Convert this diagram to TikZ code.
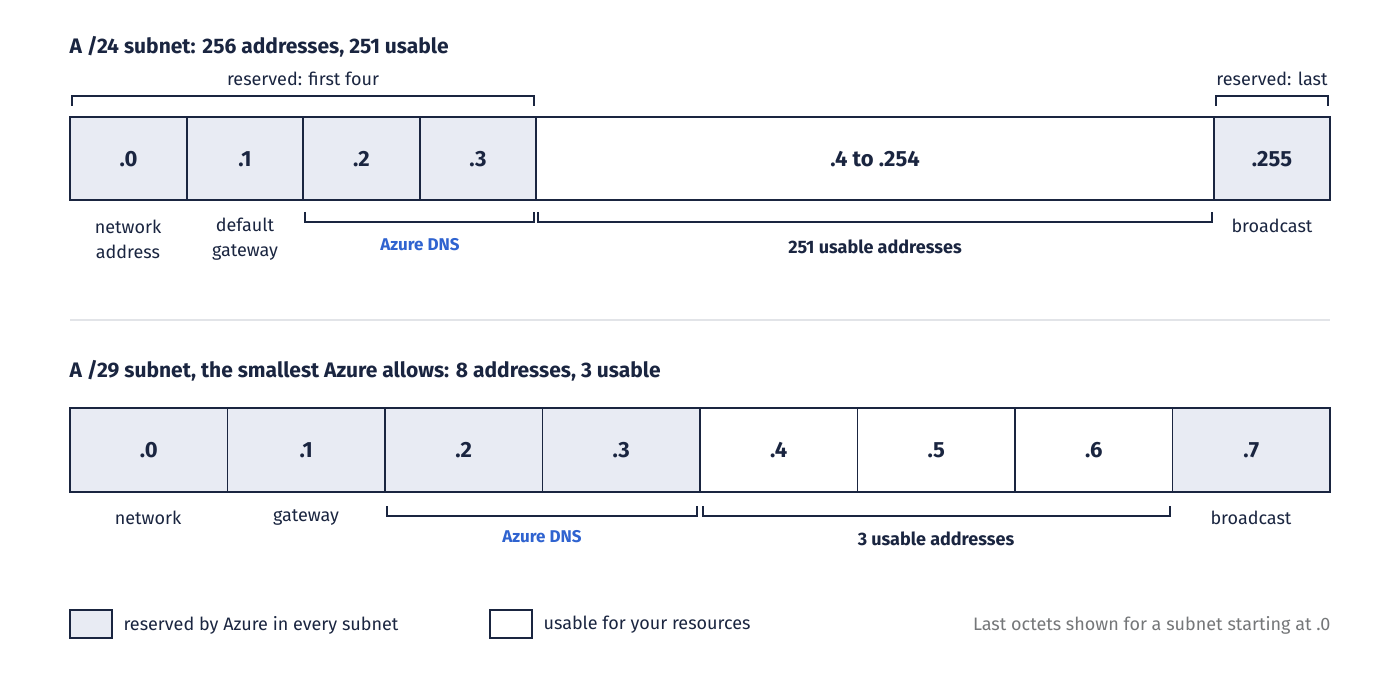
\documentclass[tikz,border=0pt]{standalone}
\usepackage{fontspec}
\setmainfont{Fira Sans}
\begin{document}
\begin{tikzpicture}[x=1pt,y=-1pt,
  res/.style={draw=navy,fill=resfill,line width=1.4pt},
  use/.style={draw=navy,fill=white,line width=1.4pt},
  oct/.style={font=\fontsize{22}{24}\selectfont\bfseries,text=navy},
  lbl/.style={font=\fontsize{18}{25}\selectfont,text=navy,align=center},
  blbl/.style={font=\fontsize{18}{22}\selectfont\bfseries,text=navy},
  dns/.style={font=\fontsize{17}{22}\selectfont\bfseries,text=azure},
  ttl/.style={font=\fontsize{21}{24}\selectfont\bfseries,text=navy,anchor=west},
  brk/.style={draw=navy,line width=1.1pt}]
\definecolor{navy}{HTML}{1A2540}
\definecolor{resfill}{HTML}{E8EBF3}
\definecolor{azure}{HTML}{2F63D0}
\definecolor{sep}{HTML}{E2E4E8}
\useasboundingbox (0,0) rectangle (1400,700);
\fill[white] (0,0) rectangle (1400,700);
% top
\node[ttl] (t1) at (66,47) {A /24 subnet: 256 addresses, 251 usable};
\node[lbl] (r4) at (303,79) {reserved: first four};
\draw[brk] (72,106) -- (72,96) -- (534,96) -- (534,106);
\node[lbl] (rl) at (1272,79) {reserved: last};
\draw[brk] (1216,106) -- (1216,96) -- (1328,96) -- (1328,106);
\foreach \a/\b/\t/\s/\n in {70/187/.0/res/a0,187/303/.1/res/a1,303/420/.2/res/a2,420/536/.3/res/a3,536/1214/.4 to .254/use/a4,1214/1330/.255/res/a5}{
  \draw[\s] (\a,117) rectangle (\b,200);
  \node[oct] (\n) at ({(\a+\b)/2},159) {\t};
}
\node[lbl] (na) at (128,239) {network\\address};
\node[lbl] (dg) at (245,239) {default\\gateway};
\draw[brk] (305,212) -- (305,222) -- (534,222) -- (534,212);
\node[dns] (d1) at (420,245) {Azure DNS};
\draw[brk] (538,212) -- (538,222) -- (1212,222) -- (1212,212);
\node[blbl] (u1) at (875,247) {251 usable addresses};
\node[lbl] (b1) at (1272,226) {broadcast};
\draw[sep,line width=1.2pt] (70,320) -- (1330,320);
% bottom
\node[ttl] (t2) at (66,371) {A /29 subnet, the smallest Azure allows: 8 addresses, 3 usable};
\foreach \i/\t/\s in {0/.0/res,1/.1/res,2/.2/res,3/.3/res,4/.4/use,5/.5/use,6/.6/use,7/.7/res}{
  \draw[\s] ({70+157.5*\i},408) rectangle ({70+157.5*(\i+1)},492);
  \node[oct] (b\i) at ({70+157.5*(\i+0.5)},450) {\t};
}
\node[lbl] (nw) at (148,518) {network};
\node[lbl] (gw) at (306,518) {gateway};
\draw[brk] (387,506) -- (387,516) -- (697,516) -- (697,506);
\node[dns] (d2) at (542,537) {Azure DNS};
\draw[brk] (703,506) -- (703,516) -- (1170,516) -- (1170,506);
\node[blbl] (u2) at (936,539) {3 usable addresses};
\node[lbl] (b2) at (1251,518) {broadcast};
% legend
\draw[res] (70,610) rectangle (112,638);
\node[lbl,anchor=west] (l1) at (120,625) {reserved by Azure in every subnet};
\draw[use] (490,610) rectangle (532,638);
\node[lbl,anchor=west] (l2) at (540,625) {usable for your resources};
\node[lbl,anchor=east,text=gray!90!navy] (l3) at (1334,625) {Last octets shown for a subnet starting at .0};
\end{tikzpicture}
\end{document}
